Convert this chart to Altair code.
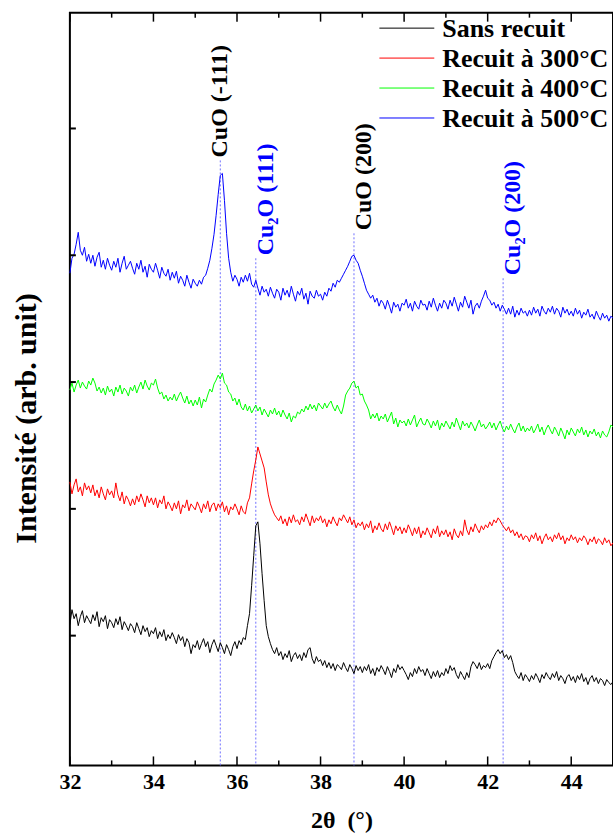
import altair as alt
import numpy as np
import pandas as pd

# 2θ sampling grid, 0.05° step
two_theta = np.round(np.arange(32.0, 45.0001, 0.05), 2)

# Diffracted intensity (arbitrary units, curves already stacked with offsets)
sans_recuit = [
    141, 156, 147, 152, 140, 149, 155, 143, 150, 146,
    142, 151, 145, 154, 139, 148, 144, 150, 137, 146,
    143, 138, 147, 141, 149, 136, 144, 140, 135, 142,
    139, 133, 143, 137, 131, 140, 134, 138, 129, 135,
    132, 138, 127, 134, 129, 136, 125, 131, 127, 133,
    128, 122, 131, 125, 129, 119, 127, 123, 112, 121,
    118, 125, 116, 122, 127, 119, 124, 113, 121, 126,
    120, 114, 123, 118, 112, 121, 116, 110, 119, 124,
    117, 125, 121, 128, 126, 140, 152, 180, 210, 240,
    244, 222, 192, 165, 140, 129, 122, 116, 112, 118,
    110, 114, 106, 112, 108, 115, 104, 110, 113, 107,
    111, 105, 113, 108, 116, 118, 107, 102, 109, 104,
    106, 100, 105, 98, 103, 97, 102, 95, 101, 99,
    96, 103, 98, 94, 101, 97, 92, 100, 95, 99,
    93, 99, 95, 101, 92, 97, 90, 98, 94, 100,
    96, 91, 99, 94, 88, 97, 93, 101, 96, 99,
    95, 91, 86, 93, 89, 97, 92, 99, 94, 96,
    90, 97, 92, 87, 94, 89, 95, 88, 93, 90,
    97, 92, 100, 95, 98, 91, 87, 94, 90, 86,
    93, 88, 99, 104, 101, 97, 103, 96, 100, 98,
    102, 97, 105, 109, 113, 116, 112, 115, 108, 111,
    106, 110, 103, 94, 90, 87, 93, 85, 91, 88,
    84, 90, 86, 92, 88, 83, 91, 87, 93, 89,
    86, 92, 88, 94, 85, 90, 87, 82, 89, 91,
    85, 89, 83, 90, 86, 92, 84, 88, 81, 87,
    90, 84, 88, 82, 87, 85, 80, 86, 83, 81,
    84,
]

recuit_300 = [
    284, 272, 281, 287, 274, 279, 270, 283, 276, 280,
    273, 281, 270, 276, 268, 279, 272, 266, 277, 271,
    275, 268, 283, 271, 265, 274, 262, 270, 266, 260,
    267, 261, 270, 264, 272, 266, 259, 270, 263, 268,
    261, 268, 258, 266, 262, 270, 257, 264, 260, 255,
    263, 257, 265, 252, 261, 258, 266, 255, 262, 259,
    256, 264, 259, 253, 262, 257, 265, 254, 261, 263,
    255, 262, 258, 264, 254, 260, 251, 259, 256, 262,
    257, 251, 260, 254, 252, 263, 268, 282, 295, 306,
    319, 312, 305, 298, 284, 271, 262, 256, 251, 248,
    245, 250, 242, 247, 240, 249, 243, 251, 244, 246,
    241, 249, 244, 252, 246, 240, 250, 243, 248, 245,
    250, 243, 247, 239, 246, 242, 249, 244, 240, 248,
    245, 251, 247, 243, 249, 241, 246, 238, 243, 240,
    244, 236, 242, 238, 245, 233, 240, 236, 243, 237,
    234, 242, 236, 244, 238, 231, 240, 235, 239, 232,
    238, 233, 241, 236, 230, 238, 232, 239, 228, 235,
    231, 238, 233, 228, 237, 232, 240, 229, 235, 231,
    236, 229, 234, 226, 237, 231, 228, 235, 230, 246,
    236, 231, 239, 234, 242, 237, 233, 240, 236, 241,
    238, 244, 240, 246, 243, 248, 245, 241, 238, 235,
    239, 233, 236, 230, 234, 228, 232, 226, 230, 229,
    224, 231, 227, 233, 225, 230, 222, 228, 232, 226,
    229, 224, 231, 227, 233, 226, 230, 222, 228, 225,
    231, 226, 229, 223, 228, 225, 230, 227, 221, 227,
    224, 229, 222, 227, 225, 221, 228, 223, 226, 220,
    223,
]

recuit_400 = [
    376, 383, 374, 381, 386, 378, 384, 380, 377, 385,
    381, 388, 383, 375, 379, 373, 378, 371, 380, 374,
    377, 370, 379, 374, 381, 372, 378, 375, 370, 379,
    375, 381, 373, 379, 384, 377, 386, 380, 376, 383,
    381, 387, 378, 372, 374, 367, 371, 365, 369, 366,
    372, 365, 370, 374, 368, 363, 370, 362, 366, 360,
    366, 361, 369, 358, 367, 364, 371, 377, 374, 382,
    386, 391, 387, 393, 383, 381, 374, 372, 365, 368,
    361, 367, 359, 356, 362, 355, 360, 353, 357, 361,
    355, 359, 351, 357, 353, 349, 356, 352, 358, 351,
    355, 349, 356, 351, 347, 353, 344, 350, 348, 354,
    352, 357, 354, 360, 356, 362, 357, 361, 355, 363,
    360, 357, 363, 358, 362, 365, 359, 355, 361, 356,
    352, 360, 371, 375, 378, 383, 385, 378, 380, 371,
    372, 365, 361, 356, 347, 352, 348, 353, 345, 350,
    347, 352, 344, 349, 354, 342, 348, 339, 346, 343,
    345, 340, 347, 341, 346, 351, 339, 344, 348, 342,
    341, 347, 343, 338, 345, 340, 346, 336, 343, 339,
    345, 341, 337, 344, 339, 348, 342, 336, 345, 340,
    343, 338, 344, 340, 335, 341, 346, 339, 342, 337,
    340, 344, 338, 343, 336, 341, 345, 338, 334, 340,
    336, 342, 337, 333, 339, 343, 335, 340, 334, 338,
    335, 340, 333, 337, 342, 334, 339, 331, 337, 341,
    336, 332, 339, 335, 330, 338, 333, 327, 336, 331,
    338, 334, 330, 337, 333, 339, 331, 336, 329, 335,
    332, 337, 330, 334, 328, 335, 331, 329, 334, 341,
    339,
]

recuit_500 = [
    493, 508, 512, 522, 534, 516, 511, 519, 505, 512,
    503, 511, 500, 509, 514, 499, 506, 497, 508, 501,
    496, 505, 499, 508, 494, 503, 510, 497, 501, 505,
    498, 492, 503, 497, 506, 494, 500, 489, 502, 497,
    494, 503, 496, 488, 499, 493, 490, 497, 486, 494,
    488, 495, 483, 490, 486, 480, 491, 484, 478, 487,
    483, 480, 486, 482, 489, 491, 498, 506, 518, 532,
    551, 572, 591, 593, 566, 533, 508, 494, 485, 491,
    487, 480, 489, 484, 491, 485, 493, 482, 479, 486,
    478, 471, 480, 474, 477, 470, 479, 473, 468, 477,
    474, 466, 478, 471, 476, 469, 480, 472, 465, 475,
    471, 478, 467, 473, 462, 475, 470, 468, 476, 470,
    472, 466, 474, 470, 478, 475, 483, 479, 486, 484,
    488, 492, 496, 500, 505, 510, 511, 506, 503, 496,
    490, 483, 476, 472, 468, 471, 464, 468, 460, 466,
    463, 457, 466, 460, 453, 464, 459, 462, 455, 463,
    461, 467, 458, 463, 455, 465, 460, 457, 466, 461,
    462, 456, 465, 459, 468, 461, 455, 463, 458, 466,
    463, 457, 466, 460, 469, 462, 455, 464, 459, 470,
    464, 458, 466, 452, 460, 463, 458, 465, 470, 476,
    468, 466, 461, 464, 458, 462, 455, 461, 457, 452,
    458, 452, 460, 449, 456, 451, 458, 453, 455, 450,
    456, 451, 459, 453, 457, 450, 460, 455, 452, 458,
    454, 460, 452, 458, 455, 449, 459, 453, 457, 451,
    455, 450, 458, 452, 456, 448, 454, 451, 457, 449,
    452, 447, 455, 450, 446, 453, 448, 451, 445, 450,
    448,
]

series_names = ["Sans recuit", "Recuit à 300°C", "Recuit à 400°C", "Recuit à 500°C"]
series_colors = ["#000000", "#ff0000", "#00ff00", "#0000ff"]
series_values = [sans_recuit, recuit_300, recuit_400, recuit_500]

# Indexed reflections
peak_labels = ["CuO (-111)", "Cu₂O (111)", "CuO (200)", "Cu₂O (200)"]
peak_positions = [35.6, 36.45, 38.8, 42.37]
peak_label_start = [609, 511, 536, 491]
peak_colors = ["#000000", "#0000ff", "#000000", "#0000ff"]

x_major = [32, 34, 36, 38, 40, 42, 44]
x_minor = [33, 35, 37, 39, 41, 43]
y_ticks = [130, 257, 384, 511, 638]

X_DOMAIN = [32, 45]
Y_DOMAIN = [0, 754]
W, H = 544, 754
FONT = "Liberation Serif"

frames = []
for name, vals in zip(series_names, series_values):
    frames.append(pd.DataFrame({"two_theta": two_theta, "intensity": vals, "series": name}))
xrd = pd.concat(frames, ignore_index=True)

peaks = pd.DataFrame({
    "label": peak_labels,
    "pos": peak_positions,
    "start": peak_label_start,
    "line_top": [s - 3 for s in peak_label_start],
    "pcolor": peak_colors,
})

# Inward ticks on the frame
tick_rows = []
for v in x_major:
    tick_rows.append({"t": v, "h0": 0, "h1": 9})
    tick_rows.append({"t": v, "h0": Y_DOMAIN[1], "h1": Y_DOMAIN[1] - 9})
for v in x_minor:
    tick_rows.append({"t": v, "h0": 0, "h1": 5})
    tick_rows.append({"t": v, "h0": Y_DOMAIN[1], "h1": Y_DOMAIN[1] - 5})
xticks = pd.DataFrame(tick_rows)
px_per_deg = W / (X_DOMAIN[1] - X_DOMAIN[0])
yticks = pd.DataFrame({"t0": X_DOMAIN[0], "t1": X_DOMAIN[0] + 6 / px_per_deg, "h": y_ticks})

legend_df = pd.DataFrame({"series": series_names, "row": list(range(len(series_names)))})

xs = alt.Scale(domain=X_DOMAIN, nice=False, zero=False)
ys = alt.Scale(domain=Y_DOMAIN, nice=False, zero=False)
cs = alt.Scale(domain=series_names, range=series_colors)

x_axis = alt.Axis(
    values=x_major, format="d", ticks=False, domain=False, grid=False,
    labelFont=FONT, labelFontSize=22, labelFontWeight="bold", labelColor="black",
    labelPadding=6, labelFlush=False,
    title="2θ\u00a0\u00a0(°)", titleFont=FONT, titleFontSize=24, titleFontWeight="bold",
    titleColor="black", titlePadding=16,
)
y_axis = alt.Axis(
    labels=False, ticks=False, domain=False, grid=False,
    title="Intensité (arb. unit)", titleFont=FONT, titleFontSize=30, titleFontWeight="bold",
    titleColor="black", titleX=-28, titleY=406,
)

guides = alt.Chart(peaks).mark_rule(color="#7070ff", strokeWidth=1, strokeDash=[2, 2]).encode(
    x=alt.X("pos:Q", scale=xs, axis=x_axis),
    y=alt.Y("line_top:Q", scale=ys, axis=None),
    y2=alt.datum(0),
)

curves = alt.Chart(xrd).mark_line(strokeWidth=1).encode(
    x=alt.X("two_theta:Q", scale=xs, axis=x_axis),
    y=alt.Y("intensity:Q", scale=ys, axis=y_axis),
    color=alt.Color("series:N", scale=cs, legend=None),
    detail="series:N",
    order=alt.Order("two_theta:Q"),
)

label_style = dict(angle=270, align="left", baseline="alphabetic", font=FONT,
                   fontSize=24, fontWeight="bold")
peak_text_center = alt.Chart(peaks).transform_filter(
    alt.datum.label == "CuO (-111)"
).mark_text(dy=7, **label_style).encode(
    x=alt.X("pos:Q", scale=xs, axis=x_axis),
    y=alt.Y("start:Q", scale=ys, axis=None),
    text="label:N",
    fill=alt.Fill("pcolor:N", scale=None),
)
peak_text_side = alt.Chart(peaks).transform_filter(
    alt.datum.label != "CuO (-111)"
).mark_text(dy=17, **label_style).encode(
    x=alt.X("pos:Q", scale=xs, axis=x_axis),
    y=alt.Y("start:Q", scale=ys, axis=None),
    text="label:N",
    fill=alt.Fill("pcolor:N", scale=None),
)

xtick_marks = alt.Chart(xticks).mark_rule(color="black", strokeWidth=1.5).encode(
    x=alt.X("t:Q", scale=xs, axis=x_axis),
    y=alt.Y("h0:Q", scale=ys, axis=None),
    y2="h1:Q",
)
ytick_marks = alt.Chart(yticks).mark_rule(color="black", strokeWidth=2).encode(
    x=alt.X("t0:Q", scale=xs, axis=x_axis),
    x2="t1:Q",
    y=alt.Y("h:Q", scale=ys, axis=None),
)

leg_y = alt.Y("row:Q", scale=alt.Scale(domain=[0, 3], range=[15.5, 105.5]), axis=None)
legend_lines = alt.Chart(legend_df).mark_rule(strokeWidth=1).encode(
    x=alt.value(310), x2=alt.value(365), y=leg_y,
    color=alt.Color("series:N", scale=cs, legend=None),
)
legend_text = alt.Chart(legend_df).mark_text(
    align="left", baseline="alphabetic", dy=9, font=FONT, fontSize=26,
    fontWeight="bold", color="black",
).encode(
    x=alt.value(373), y=leg_y, text="series:N",
)

chart = alt.layer(
    guides, curves, peak_text_center, peak_text_side, xtick_marks, ytick_marks,
    legend_lines, legend_text,
).resolve_scale(y="independent").properties(
    width=W, height=H,
    padding={"left": 70, "top": 12, "right": 0, "bottom": 70},
    autosize=alt.AutoSizeParams(type="none"),
    background="white",
).configure_view(stroke="black", strokeWidth=2).configure_axis(grid=False)

chart.save("out.html", embed_options={"renderer": "svg", "actions": False})
